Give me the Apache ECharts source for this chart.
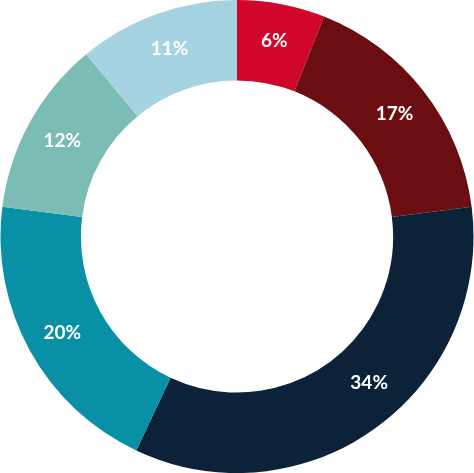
<!DOCTYPE html>
<html><head><meta charset="utf-8">
<script src="https://cdn.jsdelivr.net/npm/echarts@6/dist/echarts.min.js"></script>
<style>html,body{margin:0;padding:0;background:#fff;}#c{width:474px;height:473px;}</style>
</head><body><div id="c"></div>
<script>
const categories = ['A','B','C','D','E','F'];
const values = [6, 17, 34, 20, 12, 11];
const colors = ['#d0062a','#6a0e11','#0b2238','#0990a7','#7bbdb4','#a6d3e1'];
const chart = echarts.init(document.getElementById('c'));
chart.setOption({
  animation:false,
  series:[{
    type:'pie',
    center:['50%','50%'],
    radius:['66%','100%'],
    startAngle:90,
    clockwise:true,
    data: categories.map((c,i)=>({name:c, value:values[i], itemStyle:{color:colors[i]},
      label: i===2 ? {offset:[15,-15]} : {}})),
    itemStyle:{borderWidth:0},
    label:{show:true, position:'inside', formatter:'{c}%', color:'#fff', fontFamily:'Lato', fontWeight:'bold', fontSize:19},
    labelLine:{show:false},
    emphasis:{disabled:true}
  }]
});
</script></body></html>
